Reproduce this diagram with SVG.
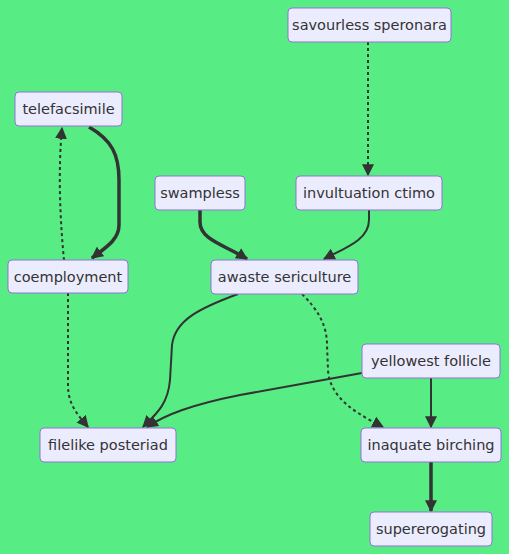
<svg xmlns="http://www.w3.org/2000/svg" width="509" height="554" viewBox="0 0 509 554">
<defs>
<style>
.node rect{fill:#ECECFF;stroke:#9370DB;stroke-width:1}
.node text{font-family:"DejaVu Sans",sans-serif;font-size:14.5px;fill:#333;text-anchor:middle;dominant-baseline:central}
.e{fill:none;stroke:#333;stroke-width:2}
.thick{stroke-width:3.5}
.dot{stroke-dasharray:3 3}
</style>
<marker id="ah" viewBox="0 0 10 10" refX="9" refY="5" markerUnits="userSpaceOnUse" markerWidth="12" markerHeight="12" orient="auto">
<path d="M0,0 L10,5 L0,10 z" fill="#333"/>
</marker>
</defs>
<rect width="509" height="554" fill="#57EC84"/>
<g id="edges">
<path class="e thick" d="M89,127 C112,140 119,155 119,180 L119,225 C119,240 105,248 92,258" marker-end="url(#ah)"/>
<path class="e dot" d="M64,260 C60,220 58,170 62,128" marker-end="url(#ah)"/>
<path class="e dot" d="M368,42 L368,175" marker-end="url(#ah)"/>
<path class="e thick" d="M200,210 L200,222 C200,240 225,245 247,259" marker-end="url(#ah)"/>
<path class="e" d="M369,210 L369,220 C369,240 345,248 324,259" marker-end="url(#ah)"/>
<path class="e" d="M238,294 C200,308 175,320 172,345 L170,380 C168,405 155,415 143,427" marker-end="url(#ah)"/>
<path class="e dot" d="M302,294 C318,310 327,325 327,345 L328,370 C330,400 360,415 383,427" marker-end="url(#ah)"/>
<path class="e dot" d="M68,293 L68,385 C68,405 78,415 88,427" marker-end="url(#ah)"/>
<path class="e" d="M362,373 L240,395 C190,405 165,415 147,427" marker-end="url(#ah)"/>
<path class="e" d="M431,378 L431,427" marker-end="url(#ah)"/>
<path class="e thick" d="M431,462 L431,511" marker-end="url(#ah)"/>
</g>
<g id="telefacsimile" class="node"><rect x="15" y="92" width="107" height="34" rx="4"/><text x="68.5" y="109">telefacsimile</text></g>
<g id="coemployment" class="node"><rect x="8" y="260" width="120" height="33" rx="4"/><text x="68" y="276.5">coemployment</text></g>
<g id="swampless" class="node"><rect x="155" y="176" width="90" height="34" rx="4"/><text x="200" y="193">swampless</text></g>
<g id="invultuation" class="node"><rect x="296" y="176" width="146" height="34" rx="4"/><text x="369" y="193">invultuation ctimo</text></g>
<g id="savourless" class="node"><rect x="288" y="8" width="163" height="34" rx="4"/><text x="369.5" y="25">savourless speronara</text></g>
<g id="awaste" class="node"><rect x="211" y="260" width="147" height="34" rx="4"/><text x="284.5" y="277">awaste sericulture</text></g>
<g id="yellowest" class="node"><rect x="362" y="344" width="138" height="34" rx="4"/><text x="431" y="361">yellowest follicle</text></g>
<g id="filelike" class="node"><rect x="40" y="428" width="136" height="34" rx="4"/><text x="108" y="445">filelike posteriad</text></g>
<g id="inaquate" class="node"><rect x="361" y="428" width="140" height="34" rx="4"/><text x="431" y="445">inaquate birching</text></g>
<g id="supererogating" class="node"><rect x="370" y="512" width="122" height="34" rx="4"/><text x="431" y="529">supererogating</text></g>
</svg>
